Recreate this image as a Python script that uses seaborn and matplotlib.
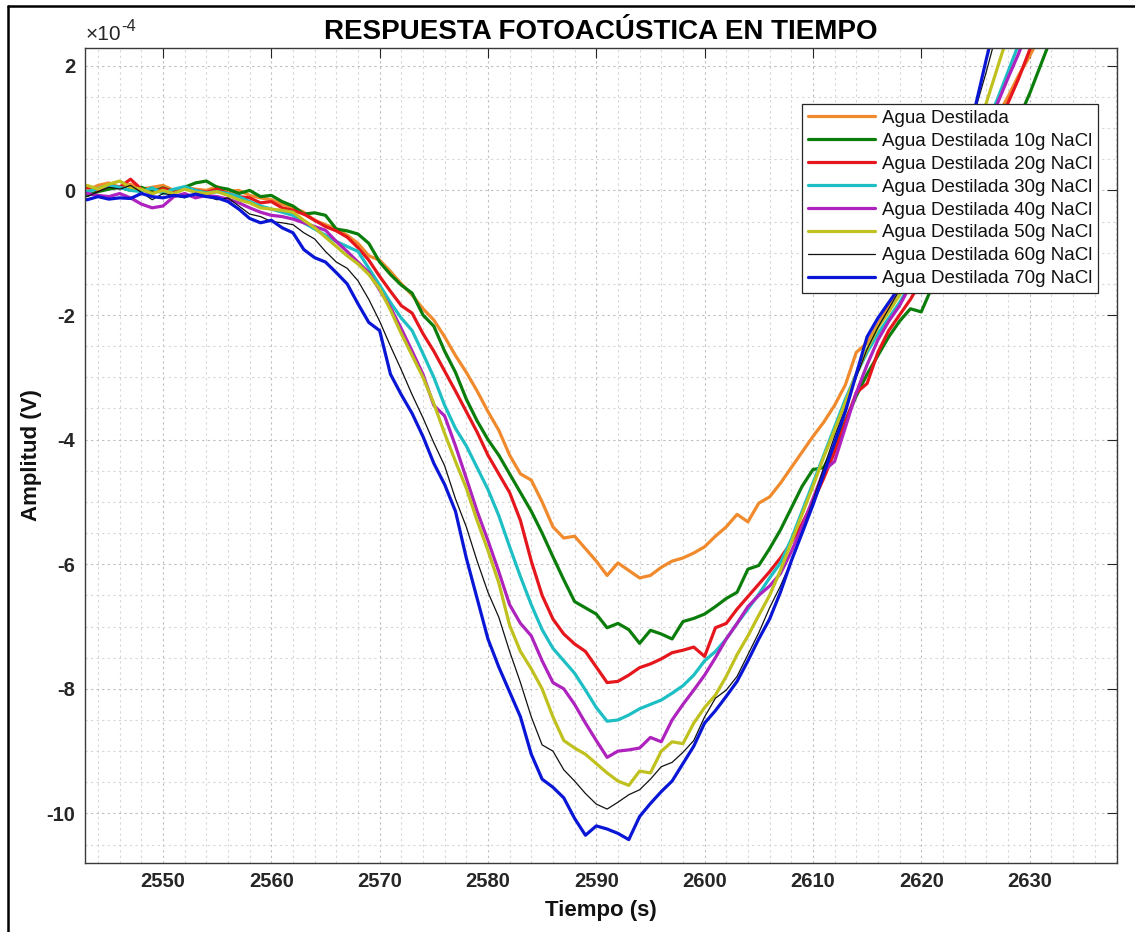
import numpy as np
import pandas as pd
import matplotlib
matplotlib.use("Agg")
import matplotlib.pyplot as plt
from matplotlib.lines import Line2D
from matplotlib.ticker import MultipleLocator, FuncFormatter
import seaborn as sns

# ---------------------------------------------------------------------------
# Data: photoacoustic amplitude (units of 1e-4 V), one sample per second
# starting at T0.
# ---------------------------------------------------------------------------
T0 = 2542
ESCALA = 1e-4

etiquetas = [
    "Agua Destilada",
    "Agua Destilada 10g NaCl",
    "Agua Destilada 20g NaCl",
    "Agua Destilada 30g NaCl",
    "Agua Destilada 40g NaCl",
    "Agua Destilada 50g NaCl",
    "Agua Destilada 60g NaCl",
    "Agua Destilada 70g NaCl",
]

agua_0g = [
    0.05, 0.00, 0.08, 0.12, 0.05, 0.10, 0.02, 0.05, 0.08, 0.00,
    0.05, 0.02, 0.00, 0.06, -0.02, 0.00, -0.08, -0.12, -0.15, -0.22,
    -0.28, -0.35, -0.48, -0.55, -0.62, -0.72, -0.85, -1.05, -1.12, -1.30,
    -1.50, -1.68, -1.90, -2.08, -2.35, -2.65, -2.92, -3.22, -3.55, -3.85,
    -4.25, -4.55, -4.65, -5.00, -5.40, -5.58, -5.55, -5.75, -5.95, -6.18,
    -5.98, -6.10, -6.22, -6.18, -6.05, -5.95, -5.90, -5.82, -5.72, -5.55,
    -5.40, -5.20, -5.32, -5.02, -4.92, -4.70, -4.45, -4.20, -3.95, -3.72,
    -3.45, -3.12, -2.60, -2.45, -2.15, -1.85, -1.55, -1.25, -0.95, -0.65,
    -0.35, -0.05, 0.25, 0.55, 0.85, 1.18, 1.50, 1.85, 2.15, 2.50,
]

agua_10g = [
    -0.12, -0.08, -0.02, 0.02, 0.05, 0.00, 0.05, -0.02, 0.04, -0.02,
    0.05, 0.12, 0.15, 0.05, 0.02, -0.05, 0.00, -0.10, -0.08, -0.18,
    -0.25, -0.38, -0.36, -0.40, -0.62, -0.65, -0.70, -0.85, -1.15, -1.35,
    -1.52, -1.65, -2.00, -2.18, -2.58, -2.92, -3.35, -3.70, -4.00, -4.25,
    -4.55, -4.85, -5.15, -5.50, -5.88, -6.25, -6.60, -6.70, -6.80, -7.02,
    -6.95, -7.05, -7.27, -7.06, -7.12, -7.20, -6.92, -6.87, -6.80, -6.68,
    -6.55, -6.45, -6.08, -6.02, -5.75, -5.45, -5.10, -4.75, -4.48, -4.45,
    -4.10, -3.70, -3.30, -2.95, -2.65, -2.35, -2.10, -1.90, -1.95, -1.55,
    -1.25, -0.95, -0.62, -0.30, 0.05, 0.40, 0.78, 1.15, 1.55, 2.00,
    2.45,
]

agua_20g = [
    0.02, 0.05, 0.00, 0.08, 0.05, 0.18, 0.02, -0.05, 0.03, -0.02,
    0.05, 0.00, -0.03, 0.02, -0.05, -0.10, -0.12, -0.20, -0.18, -0.28,
    -0.32, -0.38, -0.48, -0.58, -0.65, -0.75, -0.92, -1.12, -1.38, -1.62,
    -1.85, -1.97, -2.30, -2.58, -2.90, -3.22, -3.55, -3.88, -4.25, -4.55,
    -4.85, -5.30, -5.95, -6.50, -6.88, -7.12, -7.28, -7.40, -7.65, -7.90,
    -7.88, -7.78, -7.66, -7.60, -7.52, -7.42, -7.38, -7.33, -7.48, -7.02,
    -6.95, -6.72, -6.52, -6.32, -6.12, -5.90, -5.65, -5.35, -5.00, -4.62,
    -4.20, -3.72, -3.25, -3.10, -2.60, -2.25, -2.00, -1.75, -1.45, -1.12,
    -0.80, -0.45, -0.10, 0.25, 0.62, 1.00, 1.40, 1.80, 2.25, 2.70,
]

agua_30g = [
    0.05, -0.02, 0.03, 0.08, 0.05, 0.00, -0.02, 0.04, -0.05, 0.02,
    0.06, 0.00, -0.04, -0.02, -0.05, -0.10, -0.18, -0.25, -0.30, -0.35,
    -0.40, -0.52, -0.62, -0.72, -0.82, -0.90, -0.98, -1.25, -1.52, -1.80,
    -2.05, -2.25, -2.62, -3.00, -3.45, -3.82, -4.10, -4.45, -4.80, -5.22,
    -5.72, -6.20, -6.65, -7.05, -7.35, -7.55, -7.75, -8.02, -8.30, -8.52,
    -8.50, -8.42, -8.32, -8.25, -8.18, -8.07, -7.95, -7.78, -7.55, -7.40,
    -7.20, -6.95, -6.72, -6.48, -6.22, -5.98, -5.60, -5.15, -4.70, -4.25,
    -3.80, -3.35, -2.95, -2.60, -2.30, -2.05, -1.80, -1.50, -1.15, -0.80,
    -0.45, -0.10, 0.28, 0.65, 1.05, 1.45, 1.90, 2.35, 2.80,
]

agua_40g = [
    0.00, -0.05, -0.08, -0.10, -0.05, -0.12, -0.22, -0.28, -0.25, -0.10,
    -0.05, -0.12, -0.08, -0.10, -0.14, -0.20, -0.28, -0.35, -0.40, -0.42,
    -0.46, -0.52, -0.58, -0.64, -0.82, -0.98, -1.15, -1.32, -1.60, -1.88,
    -2.22, -2.58, -2.95, -3.45, -3.62, -4.10, -4.62, -5.15, -5.62, -6.12,
    -6.65, -6.95, -7.15, -7.55, -7.90, -8.00, -8.25, -8.55, -8.83, -9.10,
    -9.00, -8.98, -8.95, -8.78, -8.85, -8.50, -8.25, -8.02, -7.78, -7.50,
    -7.20, -6.95, -6.68, -6.50, -6.35, -6.15, -5.80, -5.40, -4.95, -4.50,
    -4.35, -3.80, -3.25, -2.80, -2.40, -2.10, -1.85, -1.52, -1.18, -0.85,
    -0.50, -0.15, 0.22, 0.60, 0.98, 1.38, 1.80, 2.20, 2.65,
]

agua_50g = [
    0.05, 0.08, 0.02, 0.10, 0.15, 0.05, 0.02, -0.05, 0.00, -0.05,
    0.02, -0.03, -0.05, -0.02, -0.08, -0.15, -0.20, -0.28, -0.30, -0.32,
    -0.35, -0.48, -0.60, -0.75, -0.90, -1.05, -1.18, -1.35, -1.58, -1.92,
    -2.30, -2.65, -3.00, -3.42, -3.90, -4.35, -4.78, -5.30, -5.78, -6.30,
    -6.98, -7.40, -7.68, -8.00, -8.45, -8.83, -8.95, -9.05, -9.20, -9.35,
    -9.48, -9.55, -9.32, -9.35, -9.00, -8.85, -8.88, -8.55, -8.30, -8.10,
    -7.80, -7.45, -7.15, -6.82, -6.50, -6.10, -5.65, -5.20, -4.75, -4.28,
    -3.85, -3.40, -2.95, -2.55, -2.20, -1.95, -1.68, -1.35, -1.00, -0.62,
    -0.25, 0.15, 0.55, 0.95, 1.40, 1.95, 2.50, 3.00,
]

agua_60g = [
    -0.05, -0.10, -0.02, 0.05, 0.02, 0.08, -0.03, -0.15, -0.05, -0.08,
    -0.12, -0.05, -0.10, -0.15, -0.12, -0.25, -0.38, -0.42, -0.50, -0.52,
    -0.55, -0.68, -0.78, -0.98, -1.15, -1.25, -1.45, -1.75, -2.10, -2.50,
    -2.88, -3.28, -3.65, -4.05, -4.42, -4.95, -5.40, -5.95, -6.45, -6.85,
    -7.40, -7.90, -8.45, -8.90, -9.00, -9.30, -9.48, -9.68, -9.85, -9.93,
    -9.82, -9.70, -9.62, -9.45, -9.25, -9.18, -9.02, -8.83, -8.45, -8.15,
    -8.02, -7.80, -7.45, -7.10, -6.70, -6.35, -5.95, -5.48, -4.98, -4.45,
    -3.95, -3.50, -3.00, -2.55, -2.20, -1.90, -1.60, -1.20, -0.80, -0.40,
    0.00, 0.42, 0.85, 1.30, 1.90, 2.55, 3.20,
]

agua_70g = [
    -0.12, -0.15, -0.10, -0.14, -0.12, -0.13, -0.05, -0.10, -0.12, -0.08,
    -0.10, -0.06, -0.10, -0.12, -0.18, -0.30, -0.45, -0.52, -0.48, -0.60,
    -0.68, -0.95, -1.08, -1.15, -1.32, -1.50, -1.82, -2.12, -2.25, -2.95,
    -3.28, -3.58, -3.95, -4.38, -4.72, -5.15, -5.90, -6.55, -7.20, -7.65,
    -8.05, -8.45, -9.05, -9.45, -9.58, -9.75, -10.08, -10.35, -10.20, -10.25,
    -10.32, -10.42, -10.05, -9.84, -9.65, -9.48, -9.20, -8.92, -8.55, -8.35,
    -8.12, -7.88, -7.55, -7.20, -6.88, -6.45, -5.95, -5.50, -5.05, -4.55,
    -4.05, -3.55, -2.95, -2.35, -2.05, -1.80, -1.55, -1.15, -0.75, -0.35,
    0.05, 0.48, 0.90, 1.35, 2.10, 2.80,
]

series = [agua_0g, agua_10g, agua_20g, agua_30g,
          agua_40g, agua_50g, agua_60g, agua_70g]

colores = ["#F08A2C", "#0B7D0B", "#E5161C", "#1DBFC4",
           "#AE22BE", "#C0C11E", "#111111", "#0A16D6"]
grosores = [2.3, 2.3, 2.3, 2.3, 2.3, 2.3, 0.9, 2.3]

x_ticks_paso = 10
y_ticks_paso = 2

# Long-form table for seaborn
filas = []
for etiqueta, valores in zip(etiquetas, series):
    for i, v in enumerate(valores):
        filas.append((T0 + i, v * ESCALA, etiqueta))
df = pd.DataFrame(filas, columns=["Tiempo", "Amplitud", "Serie"])

# ---------------------------------------------------------------------------
# Figure
# ---------------------------------------------------------------------------
sns.set_style("white")
plt.rcParams["font.family"] = ["Liberation Sans", "DejaVu Sans"]
plt.rcParams["font.weight"] = "bold"
plt.rcParams["axes.unicode_minus"] = False

fig = plt.figure(figsize=(11.35, 9.32), dpi=100)
fig.patch.set_facecolor("white")
ax = fig.add_axes([0.0749, 0.0744, 0.9095, 0.8744])

for etiqueta, color, lw in zip(etiquetas, colores, grosores):
    sub = df[df["Serie"] == etiqueta]
    sns.lineplot(data=sub, x="Tiempo", y="Amplitud", color=color,
                 linewidth=lw, label=etiqueta, ax=ax,
                 estimator=None, sort=False)

ax.set_xlim(2542.8, 2638.1)
ax.set_ylim(-10.79 * ESCALA, 2.29 * ESCALA)

ax.xaxis.set_major_locator(MultipleLocator(x_ticks_paso))
ax.xaxis.set_minor_locator(MultipleLocator(2))
ax.yaxis.set_major_locator(MultipleLocator(y_ticks_paso * ESCALA))
ax.yaxis.set_minor_locator(MultipleLocator(0.5 * ESCALA))
ax.yaxis.set_major_formatter(FuncFormatter(lambda v, p: f"{round(v / ESCALA):d}"))

ax.tick_params(axis="both", which="major", direction="in", length=7,
               width=0.8, top=True, right=True, labelsize=14.5, pad=7,
               colors="#262626")
ax.tick_params(axis="both", which="minor", length=0, top=True, right=True)

ax.set_axisbelow(True)
ax.grid(which="major", linestyle=(0, (2, 3)), color="#bdbdbd", linewidth=0.8)
ax.grid(which="minor", linestyle=(0, (2, 3)), color="#d6d6d6", linewidth=0.8)

for s in ax.spines.values():
    s.set_color("#3a3a3a")
    s.set_linewidth(1.0)

ax.set_title("RESPUESTA FOTOACÚSTICA EN TIEMPO", fontsize=20,
             fontweight="bold", color="black", pad=6)
ax.set_xlabel("Tiempo (s)", fontsize=16, fontweight="bold", color="#111111")
ax.set_ylabel("Amplitud (V)", fontsize=16, fontweight="bold", color="#111111")
ax.xaxis.set_label_coords(0.5, -0.0458)
ax.yaxis.set_label_coords(-0.0417, 0.5)

# exponent marker for the y axis
base = ax.text(0.001, 1.004, "×10", transform=ax.transAxes,
               ha="left", va="bottom", fontsize=15, fontweight="normal",
               color="#262626")
ax.annotate("-4", xy=(1.0, 0.92), xycoords=base, ha="left", va="center",
            fontsize=12, fontweight="normal", color="#262626")

leg = ax.legend(loc="upper right", bbox_to_anchor=(0.9813, 0.9309),
                borderaxespad=0, frameon=True, fancybox=False,
                edgecolor="#262626", framealpha=1, handlelength=3.6,
                handletextpad=0.35, labelspacing=0.31, borderpad=0.3,
                prop={"family": ["Liberation Sans"], "weight": "normal",
                      "size": 13.5})
leg.get_frame().set_linewidth(0.9)
for txt in leg.get_texts():
    txt.set_color("#111111")

# outer frame of the figure
fig.add_artist(Line2D([0.0069, 0.0069], [0.0, 0.9932],
                      transform=fig.transFigure, color="black", lw=1.8))
fig.add_artist(Line2D([0.0069, 1.0], [0.9932, 0.9932],
                      transform=fig.transFigure, color="black", lw=1.8))

fig.savefig("out.png", dpi=100, facecolor="white")
